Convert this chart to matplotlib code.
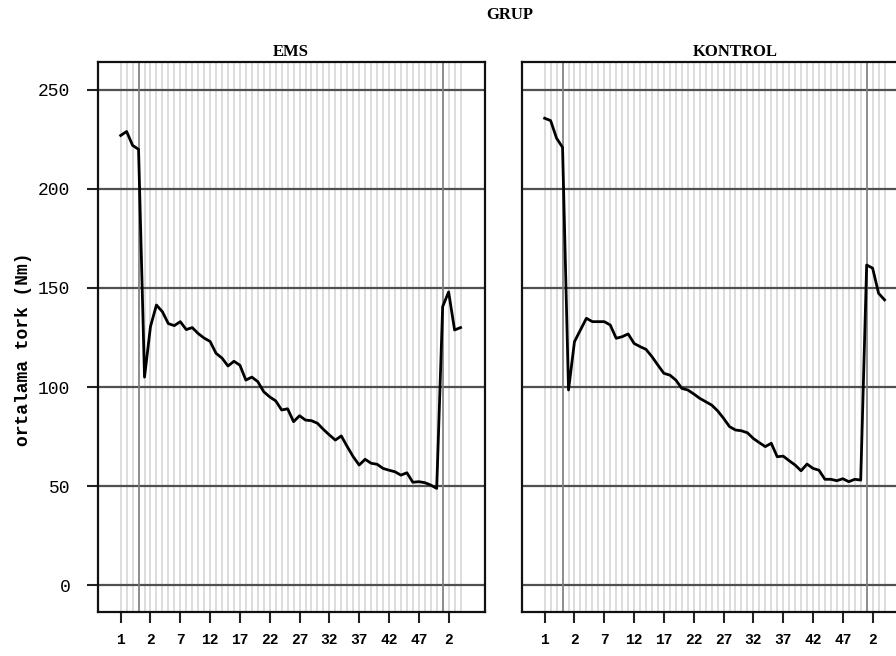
import matplotlib
matplotlib.use("Agg")
import matplotlib.pyplot as plt
import numpy as np

# mean torque per measurement, three blocks of measurements per group
ems_pre = [227, 229, 222, 220]
ems_train = [105, 130.5, 141.4, 138, 132, 131, 133, 129, 130, 127,
             124.7, 123, 117, 114.6, 110.6, 113, 111, 103.5, 105, 102.7,
             97.6, 95, 93, 88.4, 89, 82.5, 85.5, 83.3, 83, 81.7,
             78.6, 75.8, 73.2, 75.3, 69.9, 64.8, 60.6, 63.5, 61.5, 61,
             58.9, 58, 57.2, 55.5, 56.7, 51.9, 52.2, 51.7, 50.5, 48.8]
ems_post = [140.6, 148, 128.8, 130]

kon_pre = [235.7, 234.5, 225.6, 221]
kon_train = [98.5, 122.9, 128.8, 134.7, 133, 133, 133, 131.3, 124.6, 125.4,
             126.8, 122, 120.4, 119, 115.3, 111, 106.9, 106, 103.5, 99.3,
             98.5, 96.5, 94.3, 92.6, 90.9, 88, 84.2, 80, 78.3, 77.9,
             76.9, 74, 71.9, 69.9, 71.6, 64.8, 65.1, 62.8, 60.6, 57.7,
             61.1, 58.9, 58, 53.4, 53.4, 52.7, 53.7, 52.2, 53.4, 53]
kon_post = [161.6, 160, 147.3, 144]

groups = ["EMS", "KONTROL"]
yticks = [0, 50, 100, 150, 200, 250]

W, H = 896, 656
fig = plt.figure(figsize=(W / 100, H / 100), dpi=100)
fig.patch.set_facecolor("white")

def px_axes(x0, y0, x1, y1):
    return fig.add_axes([x0 / W, 1 - y1 / H, (x1 - x0) / W, (y1 - y0) / H])

mono = "Liberation Mono"
serif = "Liberation Serif"

panels = [(ems_pre, ems_train, ems_post, 98), (kon_pre, kon_train, kon_post, 522)]
for i, (pre, train, post, x0) in enumerate(panels):
    ax = px_axes(x0, 62, x0 + 387, 612)
    vals = pre + train + post
    n = len(vals)
    xs = np.arange(n)
    # visit number inside each block, every 5th one labelled
    visit = list(range(1, len(pre) + 1)) + list(range(1, len(train) + 1)) + list(range(1, len(post) + 1))

    for x in xs:
        ax.axvline(x, color="#d3d3d3", lw=1.1, zorder=1)
    for y in yticks:
        ax.axhline(y, color="#505050", lw=1.6, zorder=2)
    ax.axvline(len(pre) - 1, color="#808080", lw=1.2, zorder=2)
    ax.axvline(len(pre) + len(train), color="#808080", lw=1.2, zorder=2)

    ax.plot(xs, vals, color="black", lw=2.0, zorder=3)

    ax.set_xlim(-3.8, 61.1)
    ax.set_ylim(-13.6, 264.1)
    ax.set_xticks(xs[::5])
    ax.set_xticklabels([str(visit[k]) for k in xs[::5]], fontfamily=mono,
                       fontweight="bold", fontsize=10.5)
    ax.tick_params(axis="x", length=8, width=1.5, pad=7, color="#222222")
    if i == 0:
        ax.set_yticks(yticks)
        ax.set_yticklabels([str(y) for y in yticks], fontfamily=mono, fontsize=13)
        ax.tick_params(axis="y", length=8, width=1.5, pad=12, color="#222222")
    else:
        ax.set_yticks([])
    for s in ax.spines.values():
        s.set_linewidth(1.6)
        s.set_color("#111111")

    cx = 291 if i == 0 else 735
    fig.text(cx / W, 1 - 52 / H, groups[i], ha="center", va="center",
             fontfamily=serif, fontweight="bold", fontsize=12)

fig.text(510 / W, 1 - 15 / H, "GRUP", ha="center", va="center",
         fontfamily=serif, fontweight="bold", fontsize=12)
fig.text(24 / W, 1 - 349 / H, "ortalama tork (Nm)", ha="center", va="center",
         rotation=90, fontfamily=mono, fontweight="bold", fontsize=13)

fig.savefig("out.png", dpi=100)
